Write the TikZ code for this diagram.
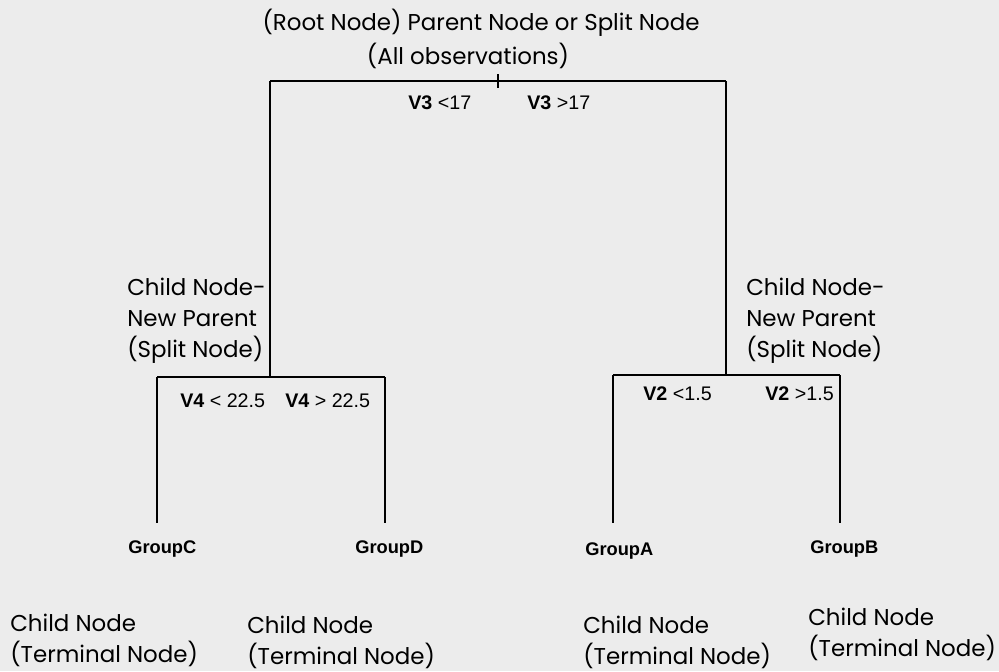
\documentclass[tikz,border=0pt]{standalone}
\usepackage{fontspec}
\setmainfont{Poppins}
\newfontfamily\condfont{Liberation Sans}
\definecolor{scanbg}{RGB}{236,236,236}

\begin{document}
\begin{tikzpicture}[x=0.025cm,y=-0.025cm,
    txt/.style={font=\fontsize{16.3}{22}\selectfont, inner sep=0pt, align=left, anchor=north west},
    cond/.style={font=\condfont\fontsize{14}{17}\selectfont, inner sep=0pt, anchor=base west},
    grp/.style={font=\condfont\bfseries\fontsize{13}{16}\selectfont, inner sep=0pt, anchor=base west},
    branch/.style={line width=1pt, black}]
    \fill[scanbg] (0,0) rectangle (999,671);
    \useasboundingbox (0,0) rectangle (999,671);
    % 根节点
    \node[txt, anchor=base] (root) at (481,30) {(Root Node) Parent Node or Split Node};
    \node[txt, anchor=base] (allobs) at (468,64) {(All observations)};
    \coordinate (rootL) at (270,81);
    \coordinate (rootR) at (726,81);
    \coordinate (tickT) at (498,74);
    \coordinate (tickB) at (498,88);
    \draw[branch] (rootL) -- (rootR);
    \draw[branch] (tickT) -- (tickB);
    \node[cond] (v3lt) at (408,109) {\textbf{V3} <17};
    \node[cond] (v3gt) at (527,109) {\textbf{V3} >17};

    % 左子树
    \coordinate (splitL) at (270,377);
    \coordinate (splitLl) at (157,377);
    \coordinate (splitLr) at (385,377);
    \coordinate (leafC) at (157,523);
    \coordinate (leafD) at (385,523);
    \draw[branch] (rootL) -- (splitL);
    \draw[branch] (splitLl) -- (splitLr);
    \draw[branch] (splitLl) -- (leafC);
    \draw[branch] (splitLr) -- (leafD);
    \node[txt] (newparL) at (127,278) {Child Node-\\New Parent\\(Split Node)};
    \node[cond] (v4lt) at (180,407) {\textbf{V4} < 22.5};
    \node[cond] (v4gt) at (285,407) {\textbf{V4} > 22.5};

    % 右子树
    \coordinate (splitR) at (726,375);
    \coordinate (splitRl) at (613,375);
    \coordinate (splitRr) at (840,375);
    \coordinate (leafA) at (613,523);
    \coordinate (leafB) at (840,523);
    \draw[branch] (rootR) -- (splitR);
    \draw[branch] (splitRl) -- (splitRr);
    \draw[branch] (splitRl) -- (leafA);
    \draw[branch] (splitRr) -- (leafB);
    \node[txt] (newparR) at (746,278) {Child Node-\\New Parent\\(Split Node)};
    \node[cond] (v2lt) at (643,400) {\textbf{V2} <1.5};
    \node[cond] (v2gt) at (765,400) {\textbf{V2} >1.5};

    % 终端节点
    \node[grp] (grpC) at (128,553) {GroupC};
    \node[grp] (grpD) at (355,553) {GroupD};
    \node[grp] (grpA) at (585,555) {GroupA};
    \node[grp] (grpB) at (810,553) {GroupB};
    \node[txt] (termC) at (10,614) {Child Node\\(Terminal Node)};
    \node[txt] (termD) at (247,616) {Child Node\\(Terminal Node)};
    \node[txt] (termA) at (583,616) {Child Node\\(Terminal Node)};
    \node[txt] (termB) at (808,608) {Child Node\\(Terminal Node)};
\end{tikzpicture}
\end{document}
